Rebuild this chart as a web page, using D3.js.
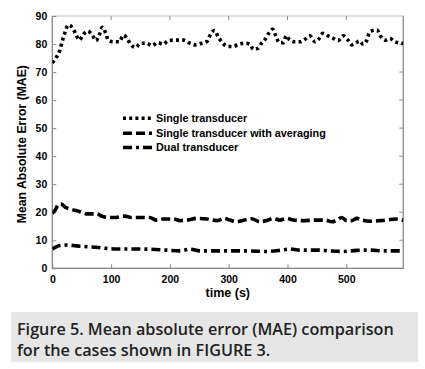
<!DOCTYPE html>
<html>
<head>
<meta charset="utf-8">
<style>
  body { margin: 0; background: #fff; }
  svg text { font-family: Arial, "Liberation Sans", sans-serif; }
  svg text.caption { font-family: "Open Sans", "Noto Sans", sans-serif; }
</style>
</head>
<body>
<div id="chart"></div>
<script src="https://d3js.org/d3.v7.min.js"></script>
<script>
// series
var singleT = [0, 7, 13, 16, 22, 27, 35, 40, 46, 52, 60, 69, 74, 81, 85, 91, 95, 104, 114, 121, 128, 134, 142, 150, 160, 170, 179, 189, 196, 206, 223, 234, 243, 254, 264, 269, 276, 282, 290, 299, 308, 316, 328, 336, 342, 350, 356, 363, 369, 375, 380, 386, 393, 398, 404, 413, 422, 430, 438, 447, 453, 460, 469, 478, 486, 495, 503, 509, 516, 522, 529, 535, 540, 552, 559, 567, 574, 583, 597];
var singleV = [73.3, 75.3, 77.9, 80.3, 84.4, 86.8, 85.6, 83.5, 81.4, 83.2, 84.6, 82.9, 81.2, 83.8, 86.0, 83.8, 81.4, 80.8, 80.8, 83.2, 81.7, 79.7, 78.8, 80.3, 80.3, 79.4, 80.5, 79.9, 81.1, 81.4, 81.4, 80.3, 79.7, 80.3, 81.1, 83.5, 84.8, 82.6, 80.3, 79.1, 79.1, 79.9, 80.3, 79.9, 78.1, 78.5, 80.3, 82.0, 84.1, 85.3, 83.0, 80.5, 80.5, 83.0, 81.4, 80.8, 80.8, 81.7, 82.9, 80.8, 81.7, 83.8, 82.9, 82.0, 81.2, 82.9, 81.4, 79.7, 80.3, 81.1, 79.9, 81.4, 84.4, 85.0, 82.6, 81.4, 82.0, 80.8, 80.2];

var avgT = [0, 5, 10, 15, 22, 33, 47, 58, 75, 87, 104, 124, 135, 149, 166, 177, 189, 206, 217, 231, 245, 263, 280, 292, 302, 313, 327, 339, 353, 364, 376, 387, 398, 410, 427, 450, 464, 475, 484, 492, 501, 509, 518, 527, 541, 558, 569, 583, 597];
var avgV = [19.6, 20.8, 22.6, 22.9, 21.8, 21.0, 20.2, 19.4, 19.4, 18.4, 18.1, 18.6, 18.1, 18.1, 18.1, 17.2, 17.6, 17.6, 17.0, 17.2, 17.8, 17.6, 17.0, 17.8, 17.2, 16.6, 17.2, 17.7, 16.6, 17.0, 17.8, 17.2, 17.8, 17.2, 17.0, 17.2, 17.2, 16.6, 17.2, 18.1, 17.0, 17.0, 17.8, 17.2, 16.8, 17.0, 17.2, 17.6, 17.1];

var dualT = [0, 5, 13, 24, 41, 58, 75, 92, 109, 138, 166, 194, 217, 234, 251, 280, 308, 336, 364, 387, 404, 421, 450, 472, 495, 518, 541, 563, 597];
var dualV = [6.9, 7.5, 8.1, 8.3, 8.0, 7.7, 7.5, 7.1, 6.9, 6.9, 6.8, 6.5, 6.2, 6.8, 6.2, 6.2, 6.2, 6.2, 6.0, 6.4, 6.9, 6.5, 6.5, 6.2, 6.0, 6.4, 6.5, 6.2, 6.2];

var seriesNames = ["Single transducer", "Single transducer with averaging", "Dual transducer"];
var dashes = ["3,3.2", "9,4", "9,4,3,4"];
var xTicks = [0, 100, 200, 300, 400, 500];
var yTicks = [0, 10, 20, 30, 40, 50, 60, 70, 80, 90];
var captionLines = ["Figure 5. Mean absolute error (MAE) comparison", "for the cases shown in FIGURE 3."];

var W = 425, H = 369;
var m = {left: 52.3, right: 403.3, top: 16, bottom: 268.3};

var svg = d3.select("#chart").append("svg")
    .attr("width", W).attr("height", H);

var x = d3.scaleLinear().domain([0, 597]).range([m.left, m.right]);
var y = d3.scaleLinear().domain([0, 90]).range([m.bottom, m.top]);

// box + ticks
var gray = "#8c8c8c";
svg.append("rect")
    .attr("x", m.left).attr("y", m.top)
    .attr("width", m.right - m.left).attr("height", m.bottom - m.top)
    .attr("fill", "none").attr("stroke", "#c8c8c8").attr("stroke-width", 1.2);
svg.append("line").attr("x1", m.left).attr("x2", m.left).attr("y1", m.top).attr("y2", m.bottom)
    .attr("stroke", gray).attr("stroke-width", 1.2);
svg.append("line").attr("x1", m.left).attr("x2", m.right).attr("y1", m.bottom).attr("y2", m.bottom)
    .attr("stroke", gray).attr("stroke-width", 1.2);
svg.append("line").attr("x1", m.right).attr("x2", m.right).attr("y1", m.top).attr("y2", m.bottom)
    .attr("stroke", gray).attr("stroke-width", 1.2);

var xAxis = d3.axisBottom(x).tickValues(xTicks).tickSize(-4).tickPadding(7);
var gx = svg.append("g").attr("transform", "translate(0," + m.bottom + ")").call(xAxis);
var yAxis = d3.axisLeft(y).tickValues(yTicks).tickSize(-4).tickPadding(5);
var gy = svg.append("g").attr("transform", "translate(" + m.left + ",0)").call(yAxis);
[gx, gy].forEach(function (g) {
    g.select(".domain").remove();
    g.selectAll(".tick line").attr("stroke", gray);
    g.selectAll(".tick text").attr("fill", "#000").attr("font-size", 10.5).attr("font-weight", "bold");
});
// mirrored ticks on top and right
svg.append("g").selectAll("line").data(xTicks.slice(1)).enter().append("line")
    .attr("x1", d => x(d)).attr("x2", d => x(d)).attr("y1", m.top).attr("y2", m.top + 4)
    .attr("stroke", gray);
svg.append("g").selectAll("line").data(yTicks.slice(1, -1)).enter().append("line")
    .attr("x1", m.right).attr("x2", m.right - 4).attr("y1", d => y(d)).attr("y2", d => y(d))
    .attr("stroke", gray);

// lines
var line = d3.line().x(d => x(d[0])).y(d => y(d[1])).curve(d3.curveMonotoneX);
var sets = [
    d3.zip(singleT, singleV),
    d3.zip(avgT, avgV),
    d3.zip(dualT, dualV)
];
svg.append("defs").append("clipPath").attr("id", "clip").append("rect")
    .attr("x", m.left).attr("y", m.top).attr("width", m.right - m.left).attr("height", m.bottom - m.top);
sets.forEach(function (s, i) {
    svg.append("path")
        .datum(s)
        .attr("d", line)
        .attr("fill", "none")
        .attr("stroke", "#000")
        .attr("stroke-width", 3.6)
        .attr("stroke-dasharray", dashes[i])
        .attr("clip-path", "url(#clip)");
});

// legend
var legendY = [118.3, 133.3, 147.5];
var lg = svg.append("g");
seriesNames.forEach(function (n, i) {
    lg.append("line")
        .attr("x1", 123).attr("x2", 152).attr("y1", legendY[i]).attr("y2", legendY[i])
        .attr("stroke", "#000").attr("stroke-width", 3.6).attr("stroke-dasharray", dashes[i]);
    lg.append("text")
        .attr("x", 156).attr("y", legendY[i] + 3.8)
        .attr("font-size", 10.8).attr("font-weight", "bold").text(n);
});

// axis titles
svg.append("text")
    .attr("x", (m.left + m.right) / 2).attr("y", 297)
    .attr("text-anchor", "middle").attr("font-size", 12.5).attr("font-weight", "bold")
    .text("time (s)");
svg.append("text")
    .attr("transform", "translate(26," + ((m.top + m.bottom) / 2 + 2) + ") rotate(-90)")
    .attr("text-anchor", "middle").attr("font-size", 12.2).attr("font-weight", "bold")
    .text("Mean Absolute Error (MAE)");

// caption
svg.append("rect")
    .attr("x", 11).attr("y", 312).attr("width", 407).attr("height", 50)
    .attr("fill", "#e6e6e6");
captionLines.forEach(function (t, i) {
    svg.append("text")
        .attr("class", "caption")
        .attr("x", 17).attr("y", 335 + i * 21)
        .attr("font-size", 16.2).attr("font-weight", 600)
        .attr("fill", "#222")
        .text(t);
});
</script>
</body>
</html>
